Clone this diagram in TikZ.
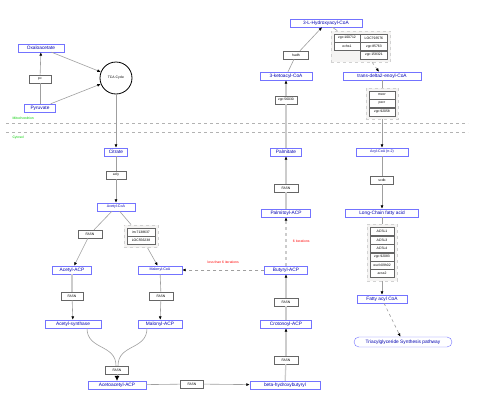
\documentclass[tikz,border=0pt]{standalone}
\usepackage{fontspec}
\setmainfont{Liberation Sans}
\usetikzlibrary{arrows.meta,positioning,fit,backgrounds}

\begin{document}
\begin{tikzpicture}[x=1pt,y=-1pt,
  font=\fontsize{4.8}{5}\selectfont,
  met/.style={draw=blue!55,text=blue!70!black,fill=white,minimum width=#1,minimum height=8pt,inner sep=0.5pt},
  smallmet/.style={met=#1,font=\fontsize{3.6}{4}\selectfont},
  gene/.style={draw=black!60,fill=white,minimum width=#1,minimum height=8pt,inner sep=0.5pt,font=\fontsize{3.4}{4}\selectfont},
  grp/.style={draw=gray!35,dashed,fill=yellow!6!gray!10,inner sep=3pt},
  ln/.style={draw=gray!75,line width=0.6pt},
  lt/.style={draw=gray!40,line width=1.3pt},
  redlbl/.style={text=red,font=\fontsize{3.4}{4}\selectfont},
  greenlbl/.style={text=green!80!black,font=\fontsize{3.4}{4}\selectfont,anchor=west},
  >/.tip={Latex[length=3.5pt,width=3pt,color=black]},
  every edge/.style={ln,->}
]
\useasboundingbox (0,0) rectangle (480,402);

% compartments
\draw[gray!60,dashed,line width=0.6pt] (6,123) -- (468,123);
\draw[gray!60,dashed,line width=0.6pt] (6,132) -- (468,132);
\node[greenlbl] (mito) at (9,118) {Mitochondrion};
\node[greenlbl] (cyto) at (9,137.5) {Cytosol};

% mitochondrion
\node[met=46] (oxa) at (41,48) {Oxaloacetate};
\node[gene=22] (pc) at (40,79) {pc};
\node[met=31] (pyr) at (40,108) {Pyruvate};
\node[draw,circle,line width=0.8pt,minimum size=32pt,inner sep=0pt,font=\fontsize{3.4}{4}\selectfont] (tca) at (116,78) {TCA Cycle};

% acetyl / malonyl branch
\node[met=23] (cit) at (116,152) {Citrate};
\node[gene=20] (acly) at (116,175) {acly};
\node[smallmet=38] (acoa) at (116,207) {Acetyl-CoA};
\node[gene=24] (fasn1) at (90,234) {FASN};
\node[gene=28] (im) at (141,232) {im:7138637};
\node[gene=28,below=0pt of im] (loc1) {LOC556238};
\node[met=39] (aacp) at (72,270) {Acetyl-ACP};
\node[smallmet=44] (mcoa) at (160,270) {Malonyl-CoA};
\node[gene=22] (fasn2) at (72,296) {FASN};
\node[gene=24] (fasn3) at (161,296) {FASN};
\node[met=56] (asyn) at (73,324) {Acetyl-synthase};
\node[met=44] (macp) at (160,324) {Malonyl-ACP};
\node[gene=23] (fasn4) at (117,370) {FASN};
\node[met=58] (aaacp) at (117,385) {Acetoacetyl-ACP};
\node[gene=23] (fasn5) at (192,384) {FASN};
\node[met=70] (bhb) at (285,385) {beta-hydroxybutyryl};

% elongation column
\node[gene=24] (fasn6) at (286,360) {FASN};
\node[met=51] (cacp) at (286,324) {Crotonoyl-ACP};
\node[gene=24] (fasn7) at (286,302) {FASN};
\node[met=43] (bacp) at (286,270) {Butyryl-ACP};
\node[met=49] (pacp) at (286,213) {Palmitoyl-ACP};
\node[gene=24] (fasn8) at (286,188) {FASN};
\node[met=31] (palm) at (286,152) {Palmitate};
\node[gene=22] (z56) at (286,100) {zgc:56030};
\node[met=52] (keto) at (286,76) {3-ketoacyl-CoA};
\node[gene=25] (hadh) at (296,55) {hadh};
\node[met=72] (hyd) at (326,23) {3-L-Hydroxyacyl-CoA};

% beta oxidation side
\node[gene=26] (z100) at (347,38) {zgc:100712};
\node[gene=27,right=0pt of z100] (loc2) {LOC793576};
\node[gene=26,below=0pt of z100] (echs) {echs1};
\node[gene=27,below=0pt of loc2] (z85) {zgc:85763};
\node[gene=27,below=0pt of z85] (z158) {zgc:158321};
\node[met=78] (trans) at (382,76) {trans-delta2-enoyl-CoA};
\node[gene=26] (mecr) at (382,95) {mecr};
\node[gene=26,below=0pt of mecr] (pecr) {pecr};
\node[gene=26,below=0pt of pecr] (z92) {zgc:92058};
\node[smallmet=52] (acyl) at (382,152) {Acyl-CoA (n-2)};
\node[gene=23] (scdb) at (382,180) {scdb};
\node[met=73] (lcfa) at (382,213) {Long-Chain fatty acid};
\node[gene=24] (acsl1) at (382,231.5) {ACSL1};
\node[gene=24,below=0pt of acsl1] (acsl3) {ACSL3};
\node[gene=24,below=0pt of acsl3] (acsl4) {ACSL4};
\node[gene=24,below=0pt of acsl4] (z9208) {zgc:92083};
\node[gene=24,below=0pt of z9208] (wu) {wu:fc09h02};
\node[gene=24,below=0pt of wu] (acss) {acss2};
\node[met=50] (facoa) at (382,299) {Fatty acyl CoA};
\node[met=98,rounded corners=5pt,minimum height=10pt] (tag) at (403,342) {Triacylglyceride Synthesis pathway};

\begin{scope}[on background layer]
\node[grp,fit=(im)(loc1)] (grp0) {};
\node[grp,fit=(z100)(loc2)(z158)] (grp1) {};
\node[grp,fit=(mecr)(z92)] (grp2) {};
\node[grp,fit=(acsl1)(acss)] (grp3) {};
\end{scope}

\draw[ln] (pyr) -- (pc);
\draw (pc) edge (oxa);
\draw (oxa) edge (tca);
\draw (pyr) edge (tca);
\draw (tca) edge (cit);
\draw[ln] (cit) -- (acly);
\draw (acly) edge (acoa);
\draw[ln] (acoa) -- (fasn1);
\draw (fasn1) edge (aacp);
\draw[ln] (acoa) -- (grp0);
\draw (grp0) edge (mcoa);
\draw[lt] (aacp) -- (fasn2);
\draw (fasn2) edge (asyn);
\draw[ln] (mcoa) -- (fasn3);
\draw (fasn3) edge (macp);
\draw[ln] ([xshift=14pt]asyn.south) .. controls +(0,22) and +(0,-22) .. ([xshift=-1pt]fasn4.north);
\draw[ln] ([xshift=-13pt]macp.south) .. controls +(0,22) and +(0,-22) .. ([xshift=1pt]fasn4.north);
\draw (fasn4) edge[-{Latex[length=5pt,width=5pt,color=black]}] (aaacp);
\draw[ln] (aaacp) -- (fasn5);
\draw (fasn5) edge (bhb);
\draw[lt] (bhb) -- (fasn6);
\draw (fasn6) edge[lt] (cacp);
\draw[lt] (cacp) -- (fasn7);
\draw (fasn7) edge[lt] (bacp);
\draw (bacp) edge[dashed] node[redlbl,above=3pt] {less than 6 iterations} (mcoa);
\draw (bacp) edge[dashed,lt] node[redlbl,right=3pt] {6 iterations} (pacp);
\draw[lt] (pacp) -- (fasn8);
\draw (fasn8) edge[lt] (palm);
\draw[lt] (palm) -- (z56);
\draw (z56) edge[lt] (keto);
\draw[ln] (keto) -- (hadh);
\draw (hadh) edge (hyd);
\draw[ln] (hyd) -- (grp1);
\draw (grp1) edge[dashed] (trans);
\draw[ln] (trans) -- (grp2);
\draw (grp2) edge (acyl);
\draw[ln] (acyl) -- (scdb);
\draw (scdb) edge (lcfa);
\draw[ln] (lcfa) -- (grp3);
\draw (grp3) edge (facoa);
\draw (facoa) edge[dashed] (tag);
\end{tikzpicture}
\end{document}
